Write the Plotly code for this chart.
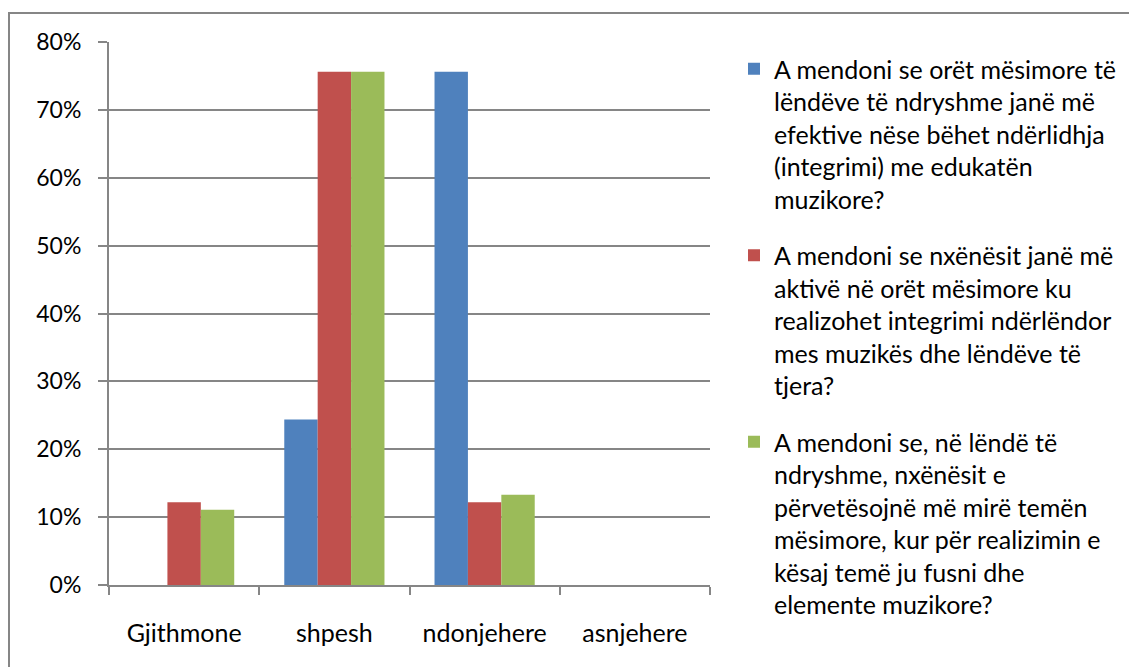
import plotly.graph_objects as go

categories = ["Gjithmone", "shpesh", "ndonjehere", "asnjehere"]
series_names = [
    "A mendoni se orët mësimore të<br>lëndëve të ndryshme janë më<br>efektive nëse bëhet ndërlidhja<br>(integrimi) me edukatën<br>muzikore?",
    "A mendoni se nxënësit janë më<br>aktivë në orët mësimore ku<br>realizohet integrimi ndërlëndor<br>mes muzikës dhe lëndëve të<br>tjera?",
    "A mendoni se, në lëndë të<br>ndryshme, nxënësit e<br>përvetësojnë më mirë temën<br>mësimore, kur për realizimin e<br>kësaj temë ju fusni dhe<br>elemente muzikore?",
]
blue_vals = [0.0, 0.244, 0.756, 0.0]
red_vals = [0.122, 0.756, 0.122, 0.0]
green_vals = [0.111, 0.756, 0.133, 0.0]
colors = ["#4F81BD", "#C0504D", "#9BBB59"]

FONT = "Lato"
fig = go.Figure()
for i, (name, vals) in enumerate(zip(series_names, [blue_vals, red_vals, green_vals])):
    fig.add_trace(go.Bar(
        x=categories, y=vals, name=name, marker_color=colors[i],
        marker_line_width=0, legendgroup=f"g{i}",
    ))

# page has an 8px body margin; figure coordinates = page coordinates - 8
OFF = 8
W, H = 1137 - OFF, 667 - OFF
L = 109 - OFF
T = 42 - OFF
R = W - (710 - OFF)
B = H - (585 - OFF)
pw, ph = W - L - R, H - T - B

fig.update_layout(
    width=W, height=H,
    margin=dict(l=L, r=R, t=T, b=B, pad=0, autoexpand=False),
    paper_bgcolor="white", plot_bgcolor="white",
    barmode="group", bargap=0.333, bargroupgap=0,
    font=dict(family=FONT, size=24, color="#000000"),
    legend=dict(
        x=(734 - OFF - L) / pw, xanchor="left",
        y=1.0 + (T - (46 - OFF)) / ph, yanchor="top",
        valign="top", traceorder="grouped", tracegroupgap=21,
        maxheight=650,
        font=dict(family=FONT, size=25, color="#000000"),
        bgcolor="rgba(0,0,0,0)",
    ),
    xaxis=dict(
        automargin=False,
        showgrid=False, showline=True, linecolor="#868686", linewidth=2,
        ticks="outside", tickson="boundaries", ticklen=8, tickwidth=2, tickcolor="#868686",
        ticklabelstandoff=25, tickfont=dict(family=FONT, size=25),
    ),
    yaxis=dict(
        automargin=False,
        range=[0, 0.8], dtick=0.1, tickformat=".0%",
        showgrid=True, gridcolor="#868686", gridwidth=2,
        showline=True, linecolor="#868686", linewidth=2,
        ticks="outside", ticklen=9, tickwidth=2, tickcolor="#868686",
        ticklabelstandoff=12, tickfont=dict(family=FONT, size=23),
        zeroline=False,
    ),
    shapes=[dict(
        type="rect", xref="paper", yref="paper",
        x0=(1 - L) / pw, x1=(W + 20 - L) / pw,
        y0=-(H + 20 - T - ph) / ph, y1=1 + (T - (13 - OFF)) / ph,
        line=dict(color="#868686", width=2), fillcolor="rgba(0,0,0,0)", layer="below",
    )],
)

fig.write_html("out.html")
